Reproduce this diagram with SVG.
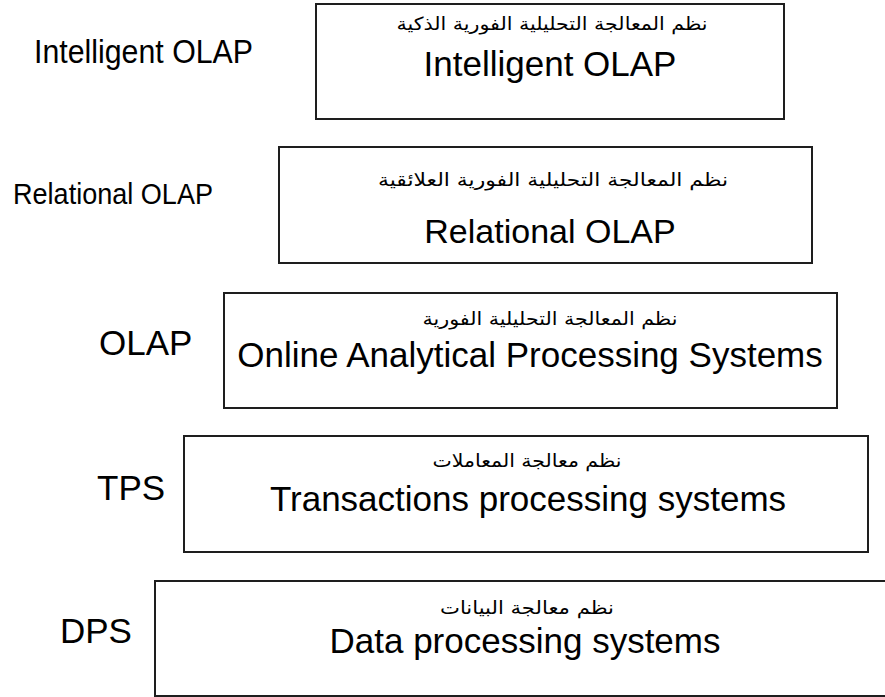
<svg xmlns="http://www.w3.org/2000/svg" width="885" height="697" viewBox="0 0 885 697">
<style>
.box{fill:#ffffff;stroke:#1e1e1e;stroke-width:2}
.en{font-family:"Liberation Sans",Arial,sans-serif;font-size:35px;fill:#000;text-anchor:middle}
.ar{font-family:"DejaVu Sans",sans-serif;font-size:18px;fill:#000;text-anchor:middle}
.lab{font-family:"Liberation Sans",Arial,sans-serif;font-size:35px;fill:#000}
</style>
<rect width="885" height="697" fill="#ffffff"/>
<g id="connectors"/>
<g id="node-intelligent-olap">
<rect class="box" x="316" y="4" width="468" height="115"/>
<text class="ar" x="552" y="30" textLength="311" lengthAdjust="spacingAndGlyphs">نظم المعالجة التحليلية الفورية الذكية</text>
<text class="en" x="550" y="76">Intelligent OLAP</text>
</g>
<g id="node-relational-olap">
<rect class="box" x="279" y="147" width="533" height="116"/>
<text class="ar" x="553" y="186" textLength="350" lengthAdjust="spacingAndGlyphs">نظم المعالجة التحليلية الفورية العلائقية</text>
<text class="en" x="550" y="243" style="font-size:34px">Relational OLAP</text>
</g>
<g id="node-olap">
<rect class="box" x="224" y="293" width="613" height="115"/>
<text class="ar" x="550" y="325" textLength="255" lengthAdjust="spacingAndGlyphs">نظم المعالجة التحليلية الفورية</text>
<text class="en" x="530" y="367">Online Analytical Processing Systems</text>
</g>
<g id="node-tps">
<rect class="box" x="184" y="436" width="684" height="116"/>
<text class="ar" x="527" y="467" textLength="189" lengthAdjust="spacingAndGlyphs">نظم معالجة المعاملات</text>
<text class="en" x="528" y="511">Transactions processing systems</text>
</g>
<g id="node-dps">
<rect class="box" x="155" y="581" width="740" height="115"/>
<text class="ar" x="527" y="614" textLength="174" lengthAdjust="spacingAndGlyphs">نظم معالجة البيانات</text>
<text class="en" x="525" y="653">Data processing systems</text>
</g>
<g id="side-labels">
<text class="lab" x="34" y="63" style="font-size:33px" textLength="219" lengthAdjust="spacingAndGlyphs">Intelligent OLAP</text>
<text class="lab" x="13" y="204" style="font-size:29px" textLength="200" lengthAdjust="spacingAndGlyphs">Relational OLAP</text>
<text class="lab" x="99" y="355">OLAP</text>
<text class="lab" x="97" y="500">TPS</text>
<text class="lab" x="60" y="643">DPS</text>
</g>
</svg>
